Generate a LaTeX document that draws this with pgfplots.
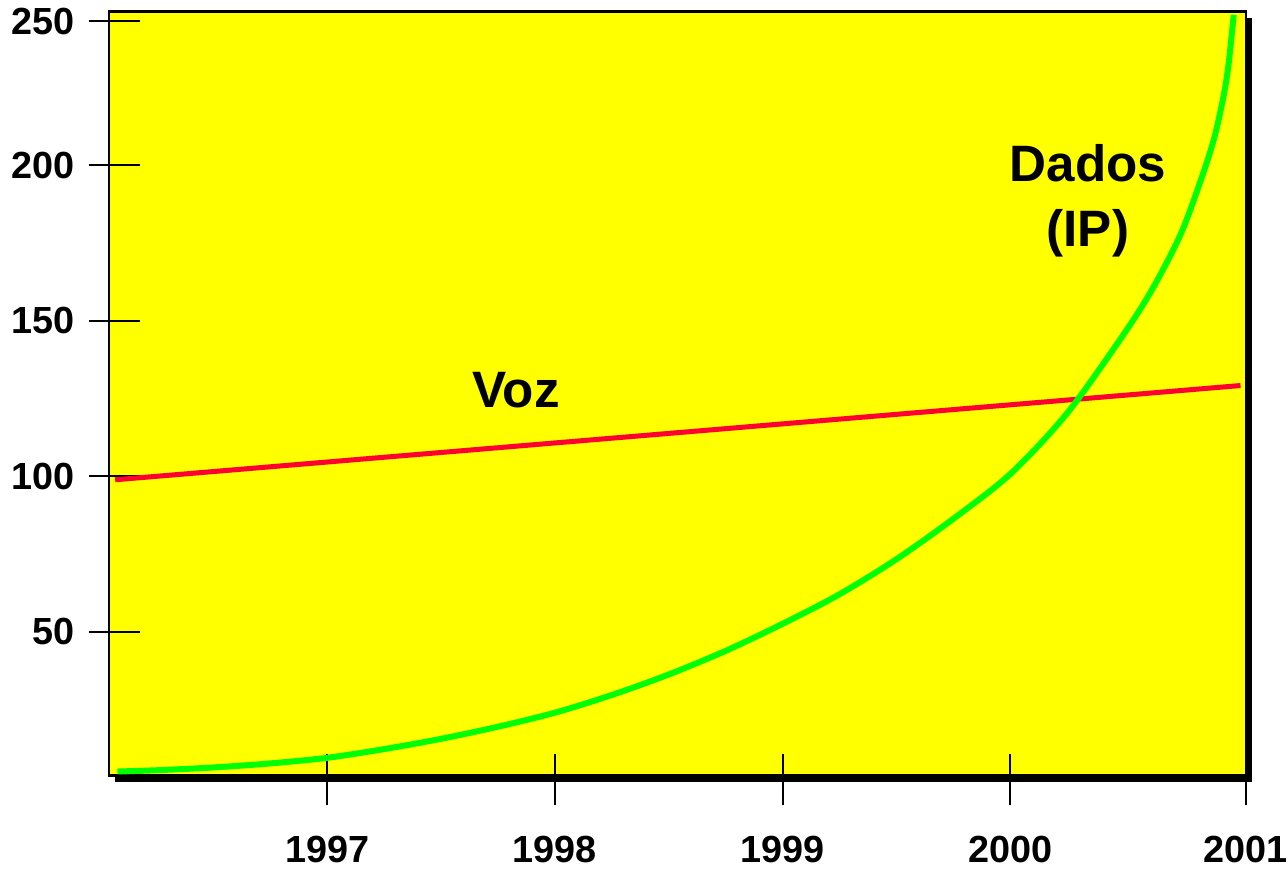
\documentclass[border=0pt]{standalone}
\usepackage{fontspec}
\setmainfont{Liberation Sans}
\usepackage{pgfplots}
\pgfplotsset{compat=1.18}
\definecolor{bgyellow}{RGB}{255,255,0}
\definecolor{vgreen}{RGB}{0,255,0}
\definecolor{vred}{RGB}{255,0,51}
\begin{document}
\begin{tikzpicture}
\begin{axis}[
  name=ax, at={(0,0)}, anchor=south west,
  scale only axis, width=568.85bp, height=382.15bp,
  xmin=1996.0425, xmax=2001.034, ymin=3.8, ymax=249.4,
  axis background/.style={fill=bgyellow, preaction={fill=black, transform canvas={xshift=3bp,yshift=-3bp}}},
  axis line style={line width=1.2bp, black},
  xtick={1997,1998,1999,2000,2001.034}, xticklabels={1997,1998,1999,2000,2001},
  ytick={50,100,150,200,246.3}, yticklabels={50,100,150,200,250},
  xtick pos=bottom, ytick pos=left,
  tick align=center,
  major tick length=25.5bp,
  major tick style={line width=1bp, black},
  xtick style={yshift=-2bp},
  ytick style={xshift=3bp},
  ticklabel style={font=\fontsize{18.9bp}{22bp}\selectfont\bfseries, inner sep=0pt},
  xticklabel style={anchor=north, yshift=-17.5bp},
  yticklabel style={anchor=east, xshift=-4.5bp},
]
\addplot[vred, line width=2.5bp] coordinates {(1996.07,98.9) (2001.01,129.2)};
\addplot[vgreen, line width=3bp, smooth] coordinates {
  (1996.08,5.1) (1996.25,5.5) (1996.5,6.4) (1996.75,7.7) (1997.0,9.5)
  (1997.25,12.3) (1997.5,15.6) (1997.75,19.5) (1998.0,24.0) (1998.25,29.7)
  (1998.5,36.3) (1998.75,43.9) (1999.0,52.6) (1999.25,62.1) (1999.5,73.4)
  (1999.75,86.4) (2000.0,100.8) (2000.25,120.4) (2000.5,146.0) (2000.625,160.5)
  (2000.75,178.3) (2000.85,198.3) (2000.9,210.3) (2000.94,224.0) (2000.96,234.0)
  (2000.98,248.4)};
\node[font=\fontsize{25.6bp}{32bp}\selectfont\bfseries, anchor=base] at (axis cs:1997.83,122.0) {Voz};
\node[font=\fontsize{25.6bp}{32bp}\selectfont\bfseries, anchor=base] at (axis cs:2000.34,194.8) {Dados};
\node[font=\fontsize{25.6bp}{32bp}\selectfont\bfseries, anchor=base] at (axis cs:2000.34,173.9) {(IP)};
\end{axis}
\path (-54.5bp,-47bp) rectangle (589.5bp,388bp);
\end{tikzpicture}
\end{document}
